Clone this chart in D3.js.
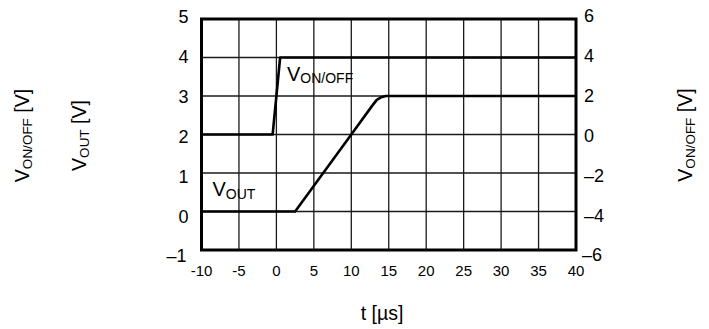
<!DOCTYPE html>
<html>
<head>
<meta charset="utf-8">
<script src="https://cdn.jsdelivr.net/npm/d3@7"></script>
<style>
  html, body { margin: 0; padding: 0; background: #fff; }
  svg { display: block; font-family: "Liberation Sans", Arial, sans-serif; }
</style>
</head>
<body>
<svg id="chart" width="709" height="329"></svg>
<script>
// Time axis ticks (µs)
const timeTicks = [-10, -5, 0, 5, 10, 15, 20, 25, 30, 35, 40];
// Left axis (V_OUT) ticks and labels
const leftTicks = [-1, 0, 1, 2, 3, 4, 5];
const leftLabels = ["\u20131", "0", "1", "2", "3", "4", "5"];
// Right axis (V_ON/OFF) ticks and labels
const rightTicks = [-6, -4, -2, 0, 2, 4, 6];
const rightLabels = ["\u20136", "\u20134", "\u20132", "0", "2", "4", "6"];

// Enable pin waveform, read on the right axis
const onOffTime = [-10, -0.5, 0.5, 40];
const onOffVolt = [0, 0, 4, 4];
// Output voltage ramp, read on the left axis
const outTime = [-10, 2.5, 10, 12.8, 13.4, 14.0, 14.6, 40];
const outVolt = [0, 0, 2, 2.75, 2.9, 2.97, 3, 3];

const svg = d3.select("#chart");
const plotLeft = 201.5, plotRight = 576, plotTop = 19, plotBottom = 250;

const x = d3.scaleLinear().domain([-10, 40]).range([plotLeft, plotRight]);
const yL = d3.scaleLinear().domain([-1, 5]).range([plotBottom, plotTop]);
const yR = d3.scaleLinear().domain([-6, 6]).range([plotBottom, plotTop]);
// tick labels sit on a slightly taller span than the grid
const yLabL = d3.scaleLinear().domain([-1, 5]).range([256, 16.3]);
const yLabR = d3.scaleLinear().domain([-6, 6]).range([255, 16]);

// grid
const grid = svg.append("g").attr("stroke", "#1a1a1a").attr("stroke-width", 1.3);
grid.selectAll("line.v").data(timeTicks.slice(1, -1)).join("line")
  .attr("x1", d => x(d)).attr("x2", d => x(d)).attr("y1", plotTop).attr("y2", plotBottom);
grid.selectAll("line.h").data(leftTicks.slice(1, -1)).join("line")
  .attr("y1", d => yL(d)).attr("y2", d => yL(d)).attr("x1", plotLeft).attr("x2", plotRight);

// data lines
const lineOnOff = d3.line().x((d, i) => x(onOffTime[i])).y(d => yR(d));
const lineOut = d3.line().x((d, i) => x(outTime[i])).y(d => yL(d));
svg.append("path").datum(onOffVolt).attr("d", lineOnOff)
  .attr("fill", "none").attr("stroke", "#000").attr("stroke-width", 2.6).attr("stroke-linejoin", "round");
svg.append("path").datum(outVolt).attr("d", lineOut)
  .attr("fill", "none").attr("stroke", "#000").attr("stroke-width", 2.6).attr("stroke-linejoin", "round");

// frame
svg.append("rect").attr("x", plotLeft).attr("y", plotTop)
  .attr("width", plotRight - plotLeft).attr("height", plotBottom - plotTop)
  .attr("fill", "none").attr("stroke", "#000").attr("stroke-width", 3);

// left tick labels
svg.append("g").selectAll("text").data(leftTicks).join("text")
  .attr("x", (d, i) => i === 0 ? 186.5 : 188.5)
  .attr("y", d => yLabL(d))
  .attr("dy", "0.36em")
  .attr("text-anchor", "end")
  .attr("font-size", 18)
  .text((d, i) => leftLabels[i]);

// right tick labels
svg.append("g").selectAll("text").data(rightTicks).join("text")
  .attr("x", (d, i) => i === 0 ? 582 : 584)
  .attr("y", d => yLabR(d))
  .attr("dy", "0.36em")
  .attr("text-anchor", "start")
  .attr("font-size", 18)
  .text((d, i) => rightLabels[i]);

// time tick labels
svg.append("g").selectAll("text").data(timeTicks).join("text")
  .attr("x", d => x(d))
  .attr("y", 276)
  .attr("text-anchor", "middle")
  .attr("font-size", 15)
  .text(d => String(d));

// text with a subscript part
function subLabel(g, main, sub, tail, size, subSize, shift) {
  const t = g.append("text").attr("font-size", size);
  t.append("tspan").text(main);
  t.append("tspan").attr("font-size", subSize).attr("dy", shift).text(sub);
  if (tail) t.append("tspan").attr("dy", -shift).text(tail);
  return t;
}

// axis titles
subLabel(svg.append("g").attr("transform", "translate(29,135.5) rotate(-90)"),
  "V", "ON/OFF", " [V]", 19.5, 13.5, 3).attr("text-anchor", "middle");
subLabel(svg.append("g").attr("transform", "translate(85.5,135.5) rotate(-90)"),
  "V", "OUT", " [V]", 19.5, 13.5, 3).attr("text-anchor", "middle");
subLabel(svg.append("g").attr("transform", "translate(691.5,135) rotate(-90)"),
  "V", "ON/OFF", " [V]", 19.5, 13.5, 3).attr("text-anchor", "middle");

svg.append("text").attr("x", 382).attr("y", 320).attr("text-anchor", "middle")
  .attr("font-size", 19.5).text("t [\u00b5s]");

// in-plot series labels
subLabel(svg.append("g").attr("transform", "translate(287,80.5)"), "V", "ON/OFF", null, 20, 14, 2.5);
subLabel(svg.append("g").attr("transform", "translate(212.5,196)"), "V", "OUT", null, 20, 14, 2.5);
</script>
</body>
</html>
